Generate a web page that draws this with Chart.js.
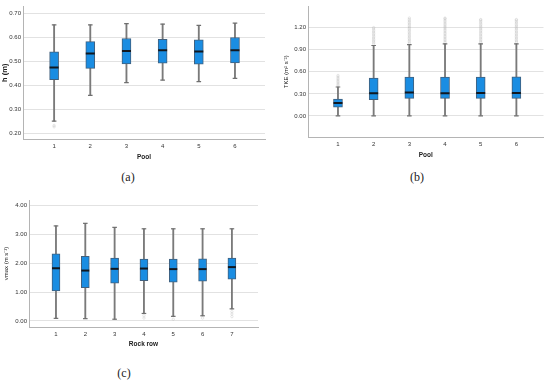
<!DOCTYPE html>
<html>
<head>
<meta charset="utf-8">
<script src="https://cdn.jsdelivr.net/npm/chart.js@4.4.1/dist/chart.umd.min.js"></script>
<style>
  html, body { margin: 0; padding: 0; background: #fff; }
  #page { position: relative; width: 550px; height: 381px; overflow: hidden; }
  .panel { position: absolute; width: 275px; height: 165px; }
  .tag { position: absolute; font-family: "Liberation Serif", "DejaVu Serif", serif; font-size: 12px; color: #222; transform: translate(-50%, -50%); }
</style>
</head>
<body>
<div id="page">
  <div class="panel" style="left:0; top:0;"><canvas id="chartA"></canvas></div>
  <div class="panel" style="left:275px; top:0;"><canvas id="chartB"></canvas></div>
  <div class="panel" style="left:0; top:190px;"><canvas id="chartC"></canvas></div>
  <div class="tag" style="left:128px; top:177px;">(a)</div>
  <div class="tag" style="left:417px; top:177px;">(b)</div>
  <div class="tag" style="left:124px; top:373px;">(c)</div>
</div>
<script>
// (a) water depth per pool
var poolCats = [1, 2, 3, 4, 5, 6];
var hMin = [0.250, 0.358, 0.411, 0.422, 0.415, 0.429];
var hQ1 = [0.424, 0.471, 0.489, 0.493, 0.488, 0.494];
var hMed = [0.475, 0.533, 0.544, 0.547, 0.542, 0.547];
var hQ3 = [0.540, 0.583, 0.596, 0.593, 0.590, 0.600];
var hMax = [0.653, 0.653, 0.658, 0.656, 0.651, 0.660];
var hOutliers = [[0.232, 0.226], [], [], [], [], []];
var hTicks = [0.20, 0.30, 0.40, 0.50, 0.60, 0.70];

// (b) TKE per pool
var tkeMin = [0.0, 0.0, 0.0, 0.0, 0.0, 0.0];
var tkeQ1 = [0.119, 0.221, 0.238, 0.238, 0.238, 0.238];
var tkeMed = [0.176, 0.309, 0.318, 0.309, 0.313, 0.313];
var tkeQ3 = [0.229, 0.516, 0.529, 0.529, 0.529, 0.531];
var tkeMax = [0.393, 0.957, 0.970, 0.979, 0.980, 0.980];
var tkeOutliers = [
    [0.41, 0.43, 0.45, 0.47, 0.49, 0.51, 0.53, 0.55],
    [0.98, 1.00, 1.02, 1.04, 1.06, 1.08, 1.10, 1.12, 1.14, 1.16, 1.18, 1.20],
    [0.99, 1.01, 1.03, 1.05, 1.07, 1.09, 1.11, 1.13, 1.15, 1.17, 1.19, 1.21, 1.23, 1.25, 1.27, 1.29, 1.31, 1.33],
    [1.00, 1.02, 1.04, 1.06, 1.08, 1.10, 1.12, 1.14, 1.16, 1.18, 1.20, 1.22, 1.24, 1.26, 1.28, 1.30, 1.32, 1.33],
    [1.00, 1.02, 1.04, 1.06, 1.08, 1.10, 1.12, 1.14, 1.16, 1.18, 1.20, 1.22, 1.24, 1.26, 1.28, 1.30, 1.31],
    [1.00, 1.02, 1.04, 1.06, 1.08, 1.10, 1.12, 1.14, 1.16, 1.18, 1.20, 1.22, 1.24, 1.26, 1.28, 1.30, 1.31]
];
var tkeTicks = [0.00, 0.30, 0.60, 0.90, 1.20];

// (c) max velocity per rock row
var rowCats = [1, 2, 3, 4, 5, 6, 7];
var vMin = [0.09, 0.08, 0.06, 0.26, 0.16, 0.18, 0.42];
var vQ1 = [1.04, 1.16, 1.31, 1.40, 1.35, 1.38, 1.45];
var vMed = [1.83, 1.75, 1.81, 1.82, 1.80, 1.80, 1.87];
var vQ3 = [2.33, 2.24, 2.18, 2.15, 2.15, 2.16, 2.18];
var vMax = [3.30, 3.39, 3.25, 3.20, 3.20, 3.20, 3.20];
var vOutliers = [[], [], [], [0.18, 0.10], [0.06], [0.10], [0.32, 0.24, 0.15]];
var vTicks = [0.00, 1.00, 2.00, 3.00, 4.00];

var tickFont = { family: 'Liberation Sans', size: 6 };
var boxBlue = '#1a8de2';

// build one SPSS-style boxplot chart from the arrays
function makeBoxChart(id, s) {
    var n = s.cats.length;
    var medians = [], boxes = [], whiskers = [], caps = [], outliers = [];
    for (var i = 0; i < n; i++) {
        var x = s.cats[i];
        medians.push({ x: x, y: s.med[i] });
        boxes.push({ x: x, y: [s.q1[i], s.q3[i]] });
        whiskers.push({ x: x, y: [s.min[i], s.max[i]] });
        caps.push({ x: x, y: s.min[i] });
        caps.push({ x: x, y: s.max[i] });
        s.out[i].forEach(function (v) { outliers.push({ x: x, y: v }); });
    }

    return new Chart(document.getElementById(id), {
        type: 'bar',
        data: {
            datasets: [
                { type: 'scatter', data: medians, pointStyle: 'line', radius: s.boxW / 2,
                  borderColor: '#111820', borderWidth: 2 },
                { type: 'bar', data: boxes, backgroundColor: boxBlue, borderColor: '#41607e',
                  borderWidth: 1, borderSkipped: false, barThickness: s.boxW, grouped: false },
                { type: 'scatter', data: caps, pointStyle: 'line', radius: 2.3,
                  borderColor: '#6f6f6f', borderWidth: 1.2 },
                { type: 'bar', data: whiskers, backgroundColor: '#7a7a7a', borderWidth: 0,
                  barThickness: 1.2, grouped: false },
                { type: 'scatter', data: outliers, pointStyle: 'circle', radius: 1.2,
                  backgroundColor: 'rgba(0,0,0,0)', borderColor: 'rgba(160,160,160,0.35)', borderWidth: 0.7 }
            ]
        },
        options: {
            responsive: true,
            maintainAspectRatio: false,
            animation: false,
            events: [],
            layout: { padding: { left: 0, top: s.padTop, right: s.padRight, bottom: 0 } },
            plugins: { legend: { display: false }, tooltip: { enabled: false } },
            scales: {
                x: {
                    type: 'linear',
                    offset: false,
                    min: s.xMin,
                    max: s.xMax,
                    grid: { display: false, drawTicks: false },
                    border: { display: true, color: '#b4b4b4', width: 1 },
                    afterBuildTicks: function (ax) { ax.ticks = s.cats.map(function (v) { return { value: v }; }); },
                    afterFit: function (ax) { ax.height = s.xAxisH; },
                    ticks: { font: tickFont, color: '#333', padding: s.xTickPad,
                             maxRotation: 0, autoSkip: false,
                             callback: function (v) { return String(v); } },
                    title: { display: true, text: s.xTitle, color: '#222',
                             font: { family: 'Liberation Sans', size: 6.5, weight: 'bold' },
                             padding: { top: 0, bottom: s.xTitlePad } }
                },
                y: {
                    type: 'linear',
                    min: s.yMin,
                    max: s.yMax,
                    grid: { color: '#e2e2e2', lineWidth: 1, drawTicks: false },
                    border: { display: true, color: '#b4b4b4', width: 1 },
                    afterBuildTicks: function (ax) { ax.ticks = s.yTicks.map(function (v) { return { value: v }; }); },
                    afterFit: function (ax) { ax.width = s.yAxisW; },
                    ticks: { font: tickFont, color: '#333', padding: 2,
                             callback: function (v) { return v.toFixed(2); } },
                    title: { display: true, text: s.yTitle, color: '#222',
                             font: { family: 'Liberation Sans', size: s.yTitleSize, weight: s.yTitleWeight },
                             padding: { top: s.yTitlePad, bottom: 0 } }
                }
            }
        }
    });
}

makeBoxChart('chartA', {
    cats: poolCats, min: hMin, q1: hQ1, med: hMed, q3: hQ3, max: hMax, out: hOutliers,
    yTicks: hTicks, yMin: 0.175, yMax: 0.73, xMin: 0.14, xMax: 6.83,
    boxW: 9, padTop: 6, padRight: 10, xAxisH: 26, yAxisW: 23,
    xTickPad: 4, xTitlePad: 4, xTitle: 'Pool',
    yTitle: 'h (m)', yTitleSize: 7.5, yTitleWeight: 'bold', yTitlePad: 0
});

makeBoxChart('chartB', {
    cats: poolCats, min: tkeMin, q1: tkeQ1, med: tkeMed, q3: tkeQ3, max: tkeMax, out: tkeOutliers,
    yTicks: tkeTicks, yMin: -0.286, yMax: 1.487, xMin: 0.16, xMax: 6.76,
    boxW: 9, padTop: 3, padRight: 5, xAxisH: 28, yAxisW: 33,
    xTickPad: 4, xTitlePad: 6, xTitle: 'Pool',
    yTitle: 'TKE (m\u00b2 s\u207b\u00b2)', yTitleSize: 6, yTitleWeight: 'normal', yTitlePad: 8
});

makeBoxChart('chartC', {
    cats: rowCats, min: vMin, q1: vQ1, med: vMed, q3: vQ3, max: vMax, out: vOutliers,
    yTicks: vTicks, yMin: -0.21, yMax: 4.2, xMin: 0.08, xMax: 7.89,
    boxW: 8, padTop: 10, padRight: 17, xAxisH: 28, yAxisW: 29,
    xTickPad: 4, xTitlePad: 7, xTitle: 'Rock row',
    yTitle: 'vmax (m s\u207b\u00b9)', yTitleSize: 6, yTitleWeight: 'normal', yTitlePad: 3
});
</script>
</body>
</html>
